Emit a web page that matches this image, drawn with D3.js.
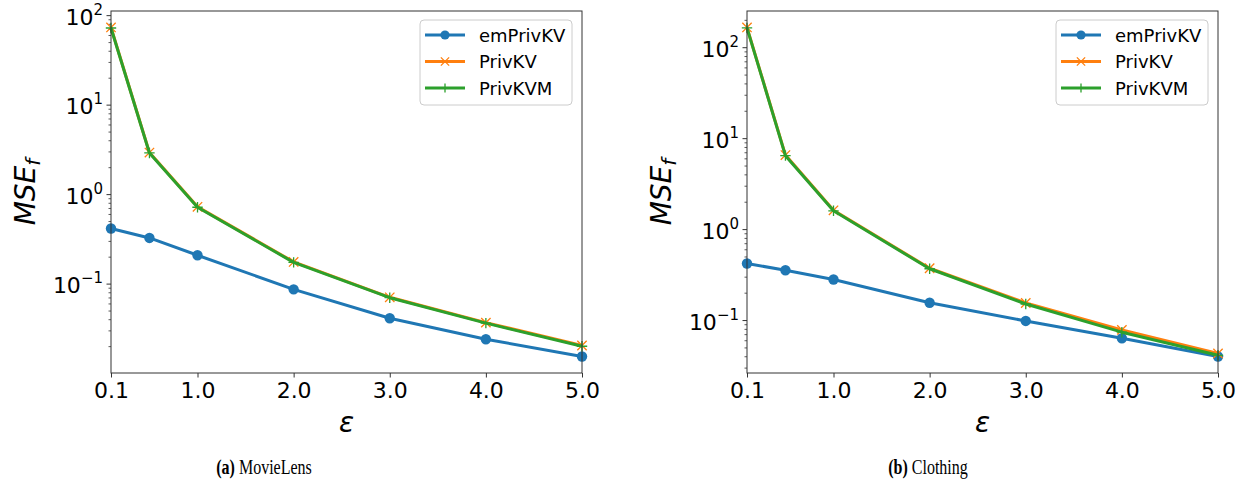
<!DOCTYPE html>
<html>
<head>
<meta charset="utf-8">
<script src="https://cdn.jsdelivr.net/npm/d3@7"></script>
<style>
  body { margin: 0; background: #fff; }
  svg text { font-family: "DejaVu Sans", sans-serif; fill: #000; }
</style>
</head>
<body>
<div id="chart"></div>
<script>
// x values (epsilon) and the ticks shown on the x axis
const epsilons = [0.1, 0.5, 1.0, 2.0, 3.0, 4.0, 5.0];
const xTickValues = [0.1, 1.0, 2.0, 3.0, 4.0, 5.0];
const seriesNames = ["emPrivKV", "PrivKV", "PrivKVM"];

// (a) MovieLens, MSE_f per epsilon
const movieEmPrivKV = [0.418, 0.328, 0.21, 0.0873, 0.0415, 0.0242, 0.0155];
const moviePrivKV = [73.8, 2.95, 0.73, 0.177, 0.0712, 0.0371, 0.0206];
const moviePrivKVM = [72.8, 2.92, 0.722, 0.175, 0.0705, 0.0366, 0.0202];

// (b) Clothing, MSE_f per epsilon
const clothEmPrivKV = [0.424, 0.357, 0.283, 0.157, 0.099, 0.0638, 0.0402];
const clothPrivKV = [167, 6.6, 1.63, 0.376, 0.156, 0.079, 0.0435];
const clothPrivKVM = [165, 6.5, 1.61, 0.371, 0.152, 0.0745, 0.0415];

const captionTags = ["(a)", "(b)"];
const captionNames = ["MovieLens", "Clothing"];

const colors = ["#1f77b4", "#ff7f0e", "#2ca02c"];
const markerKinds = ["circle", "x", "plus"];

const W = 1247, H = 490;
const plotTop = 11, plotBottom = 373;

const panels = [
    { left: 111, right: 582, captionX: 264, series: [movieEmPrivKV, moviePrivKV, moviePrivKVM] },
    { left: 747, right: 1218, captionX: 928, series: [clothEmPrivKV, clothPrivKV, clothPrivKVM] }
];

const svg = d3.select("#chart")
    .append("svg")
    .attr("width", W)
    .attr("height", H);

function drawMarker(g, kind, color, x, y, s) {
    if (kind === "circle") {
        g.append("circle").attr("cx", x).attr("cy", y).attr("r", s)
            .attr("fill", color);
    } else if (kind === "x") {
        const d = s * 0.9;
        g.append("path")
            .attr("d", `M${x - d},${y - d}L${x + d},${y + d}M${x - d},${y + d}L${x + d},${y - d}`)
            .attr("stroke", color).attr("stroke-width", 1.3).attr("fill", "none");
    } else {
        const d = s * 1.0;
        g.append("path")
            .attr("d", `M${x - d},${y}L${x + d},${y}M${x},${y - d}L${x},${y + d}`)
            .attr("stroke", color).attr("stroke-width", 1.3).attr("fill", "none");
    }
}

panels.forEach((p, pi) => {
    const g = svg.append("g");

    const x = d3.scaleLinear()
        .domain([0.1, 5.0])
        .range([p.left, p.right]);

    // log y domain with matplotlib-like 5% margins (in log space)
    const all = p.series.flat();
    const lo = Math.log10(d3.min(all)), hi = Math.log10(d3.max(all));
    const pad = (hi - lo) * 0.05;
    const y = d3.scaleLog()
        .domain([Math.pow(10, lo - pad), Math.pow(10, hi + pad)])
        .range([plotBottom, plotTop]);

    // major / minor log ticks
    const [d0, d1] = y.domain();
    const majors = [], minors = [];
    for (let e = Math.floor(Math.log10(d0)); e <= Math.ceil(Math.log10(d1)); e++) {
        const v = Math.pow(10, e);
        if (v >= d0 && v <= d1) majors.push(e);
        for (let k = 2; k <= 9; k++) {
            const m = k * v;
            if (m >= d0 && m <= d1) minors.push(m);
        }
    }

    g.selectAll(".minor")
        .data(minors)
        .enter().append("line")
        .attr("x1", p.left - 2.5).attr("x2", p.left)
        .attr("y1", d => y(d)).attr("y2", d => y(d))
        .attr("stroke", "#333").attr("stroke-width", 0.8);

    g.selectAll(".major")
        .data(majors)
        .enter().append("line")
        .attr("x1", p.left - 4.5).attr("x2", p.left)
        .attr("y1", d => y(Math.pow(10, d))).attr("y2", d => y(Math.pow(10, d)))
        .attr("stroke", "#333").attr("stroke-width", 1);

    const yl = g.selectAll(".ylab")
        .data(majors)
        .enter().append("text")
        .attr("x", p.left - 8)
        .attr("y", d => y(Math.pow(10, d)) + 9)
        .attr("text-anchor", "end")
        .style("font-size", "22px");
    yl.append("tspan").text("10");
    yl.append("tspan")
        .attr("dy", -10)
        .style("font-size", "15px")
        .text(d => d < 0 ? "\u2212" + (-d) : String(d));

    // x axis
    const xAxis = d3.axisBottom(x)
        .tickValues(xTickValues)
        .tickFormat(d3.format(".1f"))
        .tickSize(4.5)
        .tickSizeOuter(0)
        .tickPadding(5);
    const xg = g.append("g")
        .attr("transform", `translate(0,${plotBottom})`)
        .call(xAxis);
    xg.select(".domain").remove();
    xg.selectAll(".tick line").attr("stroke", "#333");
    xg.selectAll(".tick text")
        .style("font-size", "22px")
        .style("font-family", "DejaVu Sans, sans-serif")
        .attr("fill", "#000");

    // series: line then markers, in plotting order
    const line = d3.line()
        .x((d, i) => x(epsilons[i]))
        .y(d => y(d));

    p.series.forEach((vals, si) => {
        const sg = g.append("g");
        sg.append("path")
            .datum(vals)
            .attr("d", line)
            .attr("fill", "none")
            .attr("stroke", colors[si])
            .attr("stroke-width", 3)
            .attr("stroke-linejoin", "round");
        vals.forEach((v, i) => drawMarker(sg, markerKinds[si], colors[si], x(epsilons[i]), y(v), 5.2));
    });

    // frame
    g.append("rect")
        .attr("x", p.left).attr("y", plotTop)
        .attr("width", p.right - p.left).attr("height", plotBottom - plotTop)
        .attr("fill", "none").attr("stroke", "#333").attr("stroke-width", 1);

    // axis titles
    const cy = (plotTop + plotBottom) / 2;
    const ylab = g.append("text")
        .attr("transform", `translate(${p.left - 76},${cy}) rotate(-90)`)
        .attr("text-anchor", "middle")
        .style("font-size", "28px")
        .style("font-style", "italic");
    ylab.append("tspan").text("MSE");
    ylab.append("tspan").attr("dy", 5).style("font-size", "20px").text("f");

    g.append("text")
        .attr("x", (p.left + p.right) / 2)
        .attr("y", 432)
        .attr("text-anchor", "middle")
        .style("font-size", "28px")
        .style("font-style", "italic")
        .text("\u03b5");

    // legend
    const lx = p.right - 162, ly = plotTop + 9;
    const lg = g.append("g").attr("transform", `translate(${lx},${ly})`);
    lg.append("rect")
        .attr("width", 152).attr("height", 85)
        .attr("rx", 4)
        .attr("fill", "#fff").attr("fill-opacity", 0.8)
        .attr("stroke", "#ccc").attr("stroke-width", 1);
    seriesNames.forEach((name, si) => {
        const ry = 15 + si * 26.5;
        lg.append("line")
            .attr("x1", 5).attr("x2", 45)
            .attr("y1", ry).attr("y2", ry)
            .attr("stroke", colors[si]).attr("stroke-width", 3);
        drawMarker(lg, markerKinds[si], colors[si], 25, ry, 4.6);
        lg.append("text")
            .attr("x", 59).attr("y", ry + 6.5)
            .style("font-size", "18px")
            .text(name);
    });

    // caption (serif, narrowed a bit to look like the LaTeX caption)
    const cap = svg.append("text")
        .attr("transform", `translate(${p.captionX},474) scale(0.8,1)`)
        .attr("text-anchor", "middle")
        .style("font-family", "Liberation Serif, serif")
        .style("font-size", "20px");
    cap.append("tspan").style("font-weight", "bold").text(captionTags[pi]);
    cap.append("tspan").text(" " + captionNames[pi]);
});
</script>
</body>
</html>
